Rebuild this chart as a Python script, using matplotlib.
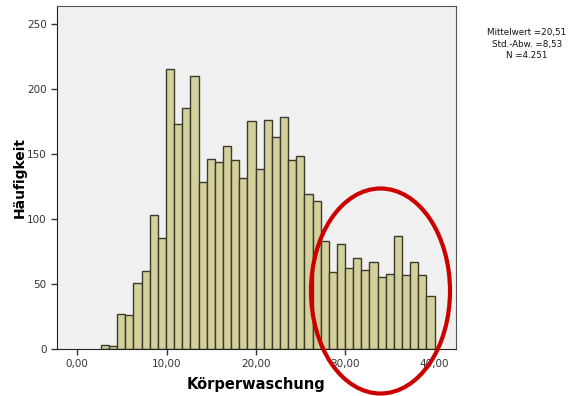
import matplotlib
matplotlib.use("Agg")
import matplotlib.pyplot as plt
import numpy as np
from matplotlib.patches import Ellipse

# Histogram counts (41 bins)
counts = [3, 2, 27, 26, 51, 60, 103, 85,
          215, 173, 185, 210, 128, 146, 144, 156, 145, 131,
          175, 138, 176, 163, 178, 145, 148, 119, 114, 83,
          59, 81, 62, 70, 61, 67, 55, 58, 87, 57, 67, 57, 41]
bin_start = 2.65
bin_end = 40.0
x_ticks = [0, 10, 20, 30, 40]
x_tick_labels = ["0,00", "10,00", "20,00", "30,00", "40,00"]
y_ticks = [0, 50, 100, 150, 200, 250]
stats_lines = ["Mittelwert =20,51", "Std.-Abw. =8,53", "N =4.251"]

W, H = 569, 396
fig = plt.figure(figsize=(W / 100, H / 100), dpi=100)
fig.patch.set_facecolor("white")
ax = fig.add_axes([57 / W, 1 - 349 / H, (456 - 57) / W, (349 - 6) / H])
ax.set_facecolor("#f0f0f0")

edges = np.linspace(bin_start, bin_end, len(counts) + 1)
ax.bar(edges[:-1], counts, width=np.diff(edges), align="edge",
       color="#d4d09c", edgecolor="#3c3a2c", linewidth=1.0)

ax.set_xlim(-2.27, 42.4)
ax.set_ylim(0, 263.5)
ax.set_xticks(x_ticks)
ax.set_xticklabels(x_tick_labels)
ax.set_yticks(y_ticks)
ax.tick_params(axis="both", direction="out", length=4, width=1,
               labelsize=7.5, colors="#333333", labelcolor="#333333")
for side in ["top", "right"]:
    ax.spines[side].set_color("#555555")
for side in ["left", "bottom"]:
    ax.spines[side].set_color("#222222")

ax.set_xlabel("Körperwaschung", fontsize=10.5, fontweight="bold")
ax.xaxis.set_label_coords(0.5, -(385 - 349) / 343, transform=ax.transAxes)
ax.xaxis.label.set_va("center")
ax.set_ylabel("Häufigkeit", fontsize=10, fontweight="bold")
ax.yaxis.set_label_coords(-(57 - 20) / 399, 0.5, transform=ax.transAxes)
ax.yaxis.label.set_va("center")

# statistics box at top right
for i, line in enumerate(stats_lines):
    fig.text(527 / W, 1 - (33 + i * 11) / H, line, ha="center", va="center",
             fontsize=6.3, color="#111111")

# red annotation ellipse
ell = Ellipse((380.5 / W, 1 - 291 / H), 139 / W, 205 / H,
              transform=fig.transFigure, fill=False, edgecolor="#cc0000",
              linewidth=3, zorder=10, clip_on=False)
fig.patches.append(ell)

fig.savefig("out.png", dpi=100)
